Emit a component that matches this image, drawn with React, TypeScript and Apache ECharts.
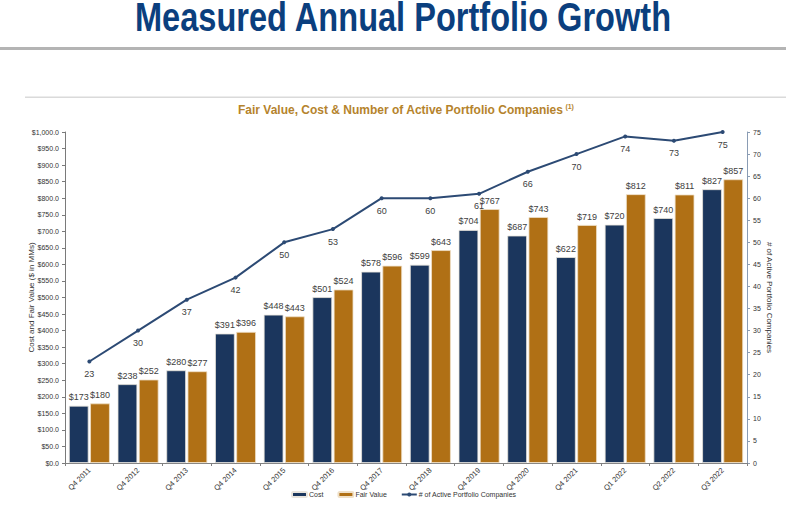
import { useEffect, useRef } from 'react';
import * as echarts from 'echarts';

const periods = [
  'Q4 2011', 'Q4 2012', 'Q4 2013', 'Q4 2014', 'Q4 2015', 'Q4 2016', 'Q4 2017',
  'Q4 2018', 'Q4 2019', 'Q4 2020', 'Q4 2021', 'Q1 2022', 'Q2 2022', 'Q3 2022',
];
const costValues = [173, 238, 280, 391, 448, 501, 578, 599, 704, 687, 622, 720, 740, 827];
const fairValues = [180, 252, 277, 396, 443, 524, 596, 643, 767, 743, 719, 812, 811, 857];
const companyCounts = [23, 30, 37, 42, 50, 53, 60, 60, 61, 66, 70, 74, 73, 75];

const NAVY = '#1b365d';
const GOLD = '#b07015';
const LINE = '#2c4a74';
const FONT = 'Liberation Sans, Arial, sans-serif';
const TITLE = 'Measured Annual Portfolio Growth';
const TITLE_FONT = "bold 40px 'Liberation Sans', Arial, sans-serif";

// the slide title is a condensed face; squeeze a regular bold face to the same width
function titleScale() {
  const ctx = document.createElement('canvas').getContext('2d');
  if (!ctx) return 0.8;
  ctx.font = TITLE_FONT;
  const w = ctx.measureText(TITLE).width;
  return w > 0 ? 537 / w : 0.8;
}

export default function App() {
  const chartRef = useRef<HTMLDivElement>(null);

  useEffect(() => {
    if (!chartRef.current) return;
    const chart = echarts.init(chartRef.current, undefined, { renderer: 'svg' });

    const usd = (v: number) =>
      '$' + v.toLocaleString('en-US', { minimumFractionDigits: 1, maximumFractionDigits: 1 });
    const sx = titleScale();

    chart.setOption({
      animation: false,
      backgroundColor: '#fff',
      textStyle: { fontFamily: FONT },
      title: {
        text: '{t|Fair Value, Cost & Number of Active Portfolio Companies}{s|(1)}',
        left: 233,
        top: 98,
        textStyle: {
          rich: {
            t: { fontFamily: FONT, fontWeight: 'bold', fontSize: 12, color: '#b5832c', verticalAlign: 'bottom' },
            s: { fontFamily: FONT, fontWeight: 'bold', fontSize: 7, color: '#b5832c', verticalAlign: 'top', padding: [0, 0, 6, 2] },
          },
        },
      },
      graphic: [
        {
          type: 'text',
          x: 135,
          y: -3,
          scaleX: sx,
          style: {
            text: TITLE,
            font: TITLE_FONT,
            fill: '#0b3f7e',
            textVerticalAlign: 'top',
          },
        },
        { type: 'rect', shape: { x: 0, y: 47, width: 786, height: 3 }, style: { fill: '#b4b4b4' } },
        { type: 'rect', shape: { x: 25, y: 96.5, width: 761, height: 1.5 }, style: { fill: '#dadada' } },
      ],
      legend: {
        bottom: 3,
        left: 286,
        itemWidth: 15,
        itemHeight: 5,
        itemGap: 14,
        textStyle: { fontSize: 7, color: '#333', padding: [0, 0, 0, -3] },
        data: ['Cost', 'Fair Value', '# of Active Portfolio Companies'],
      },
      grid: { left: 65, right: 39, top: 132, bottom: 43 },
      xAxis: {
        type: 'category',
        data: periods,
        axisLine: { lineStyle: { color: '#808080', width: 1 } },
        axisTick: { show: true, length: 3, lineStyle: { color: '#808080' } },
        axisLabel: { rotate: 45, fontSize: 7.5, color: '#333', margin: 6 },
      },
      yAxis: [
        {
          type: 'value',
          min: 0,
          max: 1000,
          interval: 50,
          name: 'Cost and Fair Value ($ in MMs)',
          nameLocation: 'middle',
          nameGap: 30,
          nameMoveOverlap: false,
          nameTextStyle: { fontSize: 8, color: '#333' },
          axisLine: { show: true, lineStyle: { color: '#7a7a7a' } },
          axisTick: { show: true, length: 3, lineStyle: { color: '#7a7a7a' } },
          axisLabel: { fontSize: 7, color: '#333', margin: 6, formatter: usd },
          splitLine: { show: false },
        },
        {
          type: 'value',
          min: 0,
          max: 75,
          interval: 5,
          position: 'right',
          name: '# of Active Portfolio Companies',
          nameLocation: 'middle',
          nameGap: 18,
          nameMoveOverlap: false,
          nameRotate: -90,
          nameTextStyle: { fontSize: 8, color: '#333' },
          axisLine: { show: true, lineStyle: { color: '#8a9cb4' } },
          axisTick: { show: true, length: 3, lineStyle: { color: '#8a9cb4' } },
          axisLabel: { fontSize: 7, color: '#333', margin: 6 },
          splitLine: { show: false },
        },
      ],
      series: [
        {
          name: 'Cost',
          type: 'bar',
          data: costValues,
          barGap: '8%',
          barCategoryGap: '16%',
          itemStyle: { color: NAVY, borderColor: '#e9e4dc', borderWidth: 0.8 },
          label: { show: true, position: 'top', distance: 4, fontSize: 9, color: '#404040', formatter: '${c}' },
        },
        {
          name: 'Fair Value',
          type: 'bar',
          data: fairValues,
          itemStyle: { color: GOLD, borderColor: '#efe0c8', borderWidth: 0.8 },
          label: { show: true, position: 'top', distance: 4, fontSize: 9, color: '#404040', formatter: '${c}' },
        },
        {
          name: '# of Active Portfolio Companies',
          type: 'line',
          yAxisIndex: 1,
          data: companyCounts,
          symbol: 'circle',
          symbolSize: 4,
          lineStyle: { color: LINE, width: 2 },
          itemStyle: { color: LINE },
          label: { show: true, position: 'bottom', distance: 6, fontSize: 9, color: '#404040' },
          z: 5,
        },
      ],
    });

    return () => chart.dispose();
  }, []);

  return (
    <div
      ref={chartRef}
      style={{ position: 'fixed', left: 0, top: 0, width: 786, height: 506 }}
    />
  );
}
